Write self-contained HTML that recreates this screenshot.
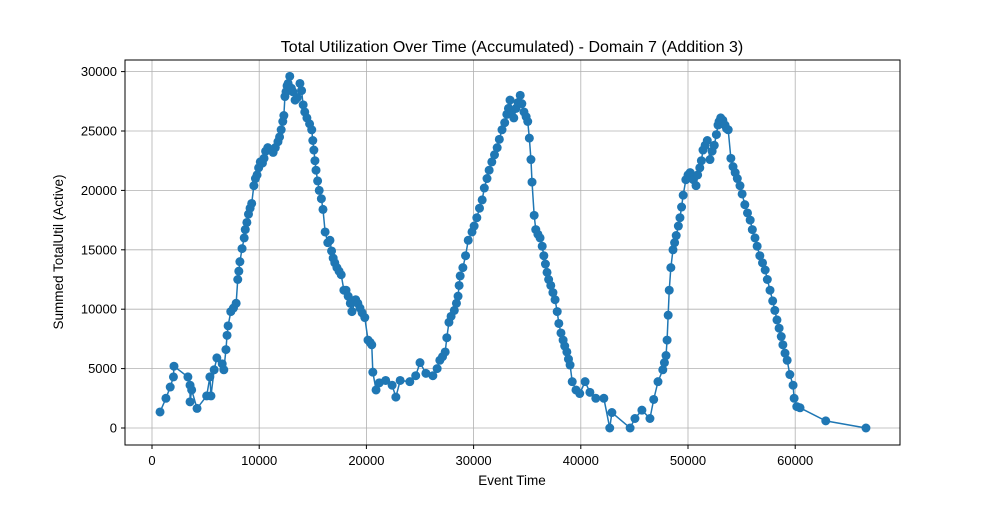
<!DOCTYPE html>
<html><head><meta charset="utf-8"><style>
body{margin:0;background:#fff;}
svg text{font-family:"Liberation Sans","DejaVu Sans",sans-serif;fill:#000;}
</style></head><body>
<svg id="chart" width="1000" height="500" xmlns="http://www.w3.org/2000/svg">
<text x="512" y="52" font-size="16" text-anchor="middle">Total Utilization Over Time (Accumulated) - Domain 7 (Addition 3)</text>
<g id="grid"></g>
<g id="series"></g>
<rect x="125" y="60" width="775" height="385" fill="none" stroke="#000" stroke-width="1"/>
<g id="xticks"></g>
<g id="yticks"></g>
<text x="512" y="485" font-size="13.5" text-anchor="middle">Event Time</text>
<text x="0" y="0" font-size="13.5" text-anchor="middle" transform="translate(63,252) rotate(-90)">Summed TotalUtil (Active)</text>
</svg>
<script>
const times=[750,1300,1700,2000,2050,3350,3550,3550,3700,4200,5100,5500,5400,5800,6050,6550,6700,6900,7100,7350,7850,8000,8200,8600,8850,9150,9300,9500,9800,10100,10450,10800,11300,11750,12050,12300,12400,12700,12850,13150,13550,13800,14100,14450,14900,15100,15300,15600,15950,16150,16600,16900,17250,17650,17900,18300,18650,19000,19400,19850,20150,20500,20600,20900,21200,21800,22400,22750,23150,24050,24600,25000,25550,26200,26600,26850,27350,27500,27700,28200,28550,28750,29000,29500,29850,30300,30800,31250,31700,32200,32650,33100,33400,33750,34150,34350,34700,35050,35350,35450,35650,35800,36200,36550,36850,37200,37600,37950,38350,38700,39000,39200,39550,39900,40400,40850,41400,42150,42700,42900,44600,45050,45700,46450,46800,47200,47650,47950,48050,48250,48400,48600,48900,49250,49550,49800,50200,50750,51100,51400,51800,52050,52450,52800,53050,53450,53750,54000,54400,54850,55300,55800,56250,56700,57200,57650,58100,58500,58850,59250,59500,59800,59900,60150,60450,62850,66600];
const utils=[1350,2500,3450,4300,5200,4300,3600,2200,3200,1650,2700,2700,4300,4900,5900,5400,4900,6600,8600,9800,10500,12500,14000,16000,17300,18500,18900,20400,21300,22400,22700,23600,23200,24100,25100,26300,27900,29000,29600,28300,27800,29000,27200,26100,25100,23400,21700,20000,18400,16500,15800,14300,13500,12900,11600,11100,9800,10800,10100,9300,7400,7000,4700,3200,3800,4000,3600,2600,4000,3900,4400,5500,4600,4400,5000,5700,6400,7600,8900,9900,11100,12800,13500,15800,16500,17700,19200,21000,22400,23600,25100,26400,27600,26100,27400,28000,26600,25800,22600,20700,17900,16700,16000,14500,13100,12000,10800,8800,7400,6400,5300,3900,3200,2900,3900,3000,2500,2500,0,1300,0,800,1500,800,2400,3900,4900,6100,7400,11600,13500,15000,16200,17700,19600,20900,21500,20400,21900,23400,24200,22600,23800,25500,26100,25500,25100,22700,21500,20400,18800,17500,16000,14500,13300,11600,9900,8400,7000,5700,4500,3600,2500,1800,1700,600,0];
const extraTimes=[7000,7600,8100,8400,8700,9000,9650,9950,10300,10600,11000,11500,11900,12200,12500,12600,13000,13350,13950,14250,14700,15000,15200,15450,15800,16400,16750,17050,17450,18100,18500,19200,19600,20350,27100,27900,28400,28650,29250,30050,30550,31000,31450,31950,32400,32900,33250,33600,33950,34500,34900,35200,36000,36400,36700,37000,37400,37800,38150,38500,38850,47800,48150,48750,49100,49400,50000,50500,50900,51250,51600,52250,52650,52900,53250,53600,54200,54600,55050,55550,56000,56450,56950,57400,57900,58300,58700,59050];
const extraUtils=[7800,10100,13200,15100,16700,18000,21000,21900,22300,23300,23400,23600,24500,25800,28300,28800,28600,27600,28400,26600,25600,24200,22500,20800,19300,15600,14900,13900,13200,11600,10500,10500,9700,7200,6000,9400,10500,12000,14500,17000,18500,20200,21700,23000,24300,25700,26900,26700,26900,27300,26200,24400,16300,15300,13800,12500,11400,9800,8000,6900,5800,5500,9500,15600,17000,18600,21300,20900,21300,22500,23800,23300,24700,25800,25900,25200,22000,21000,19700,18100,16700,15300,13900,12500,10700,9100,7700,6300];
const xTickVals=[0,10000,20000,30000,40000,50000,60000];
const yTickVals=[0,5000,10000,15000,20000,25000,30000];
const NS="http://www.w3.org/2000/svg";
const xs=v=>152+v*107.2/10000;
const ys=v=>428-v*59.4/5000;
function mk(tag,attrs,parent){const e=document.createElementNS(NS,tag);for(const k in attrs)e.setAttribute(k,attrs[k]);parent.appendChild(e);return e;}
const grid=document.getElementById('grid'),xt=document.getElementById('xticks'),yt=document.getElementById('yticks'),ser=document.getElementById('series');
xTickVals.forEach(v=>{
 const g=mk('line',{x1:xs(v),x2:xs(v),y1:60,y2:445,stroke:'#b0b0b0','stroke-width':0.8},grid);
 
 
 mk('line',{x1:xs(v),x2:xs(v),y1:445,y2:449,stroke:'#000'},xt);
 const t=mk('text',{x:xs(v),y:465,'font-size':13,'text-anchor':'middle'},xt);
 
 
 t.textContent=v;
});
yTickVals.forEach(v=>{
 const g=mk('line',{x1:125,x2:900,y1:ys(v),y2:ys(v),stroke:'#b0b0b0','stroke-width':0.8},grid);
 
 
 mk('line',{x1:121,x2:125,y1:ys(v),y2:ys(v),stroke:'#000'},yt);
 const t=mk('text',{x:117,y:ys(v)+4.5,'font-size':13,'text-anchor':'end'},yt);
 
 
 t.textContent=v;
});
const all=times.map((t,i)=>[t,utils[i]]).concat(extraTimes.map((t,i)=>[t,extraUtils[i]]));
all.sort((a,b)=>a[0]-b[0]);
const pts=all.map(p=>xs(p[0])+','+ys(p[1])).join(' ');
const line=mk('polyline',{points:pts,fill:'none',stroke:'#1f77b4','stroke-width':1.5},ser);


all.forEach(p=>{
 const c=mk('circle',{cx:xs(p[0]),cy:ys(p[1]),r:4.5,fill:'#1f77b4'},ser);
 
 
});
</script>
</body></html>
